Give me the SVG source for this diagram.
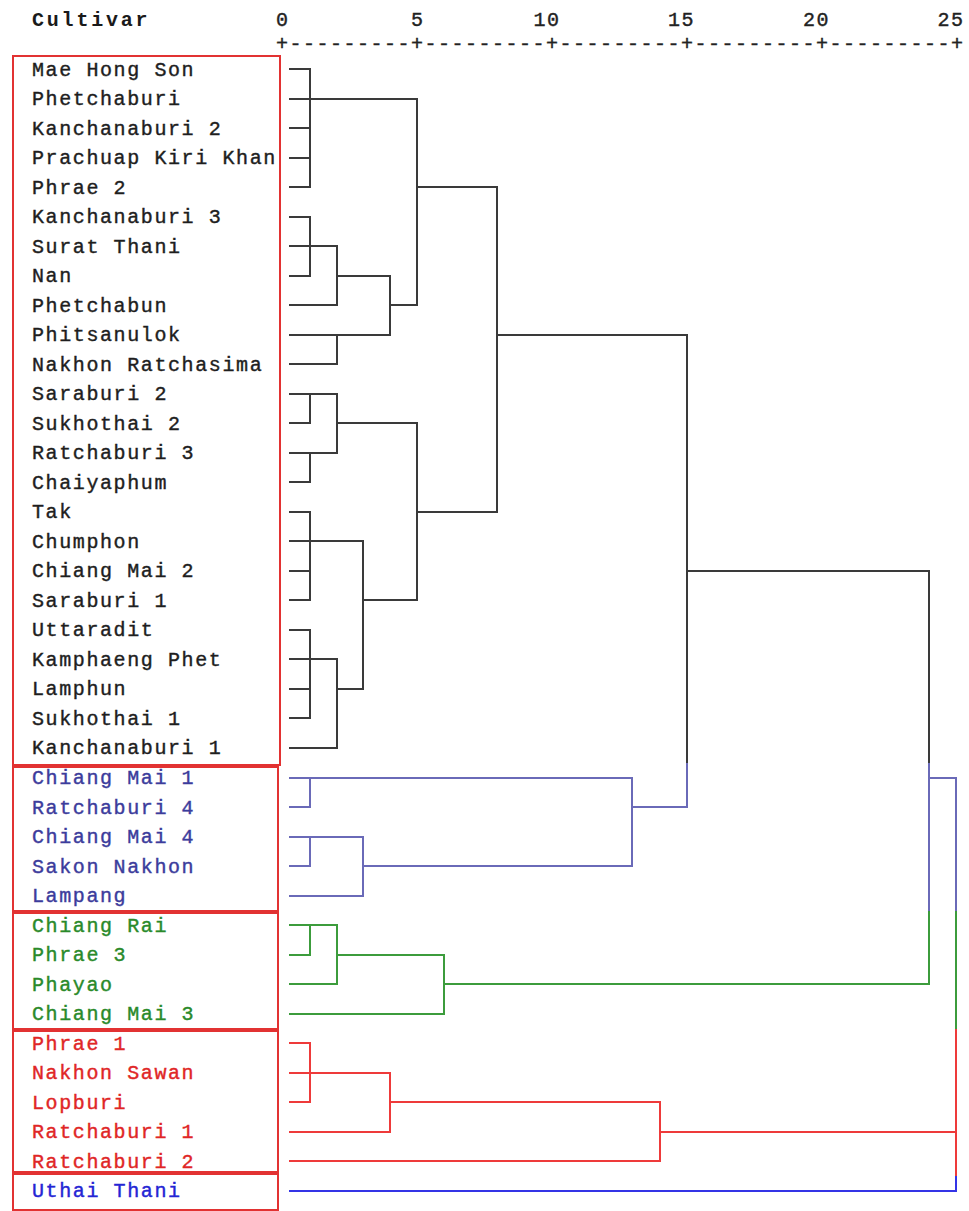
<svg xmlns="http://www.w3.org/2000/svg" width="969" height="1211" viewBox="0 0 969 1211">
<style>
text{font-family:"Liberation Mono","DejaVu Sans Mono",monospace;font-size:20px;letter-spacing:1.6px;stroke-width:0.4px}
.hdr{font-weight:bold;letter-spacing:2.8px;fill:#1a1a1a;stroke:none}
.ax{fill:#222;stroke:#222;letter-spacing:1.5px}
.k{fill:#1e1e1e;stroke:#1e1e1e}.bt{fill:#3c3c9c;stroke:#3c3c9c}.gt{fill:#2a8a2a;stroke:#2a8a2a}.rt{fill:#e02626;stroke:#e02626}.ut{fill:#2424d4;stroke:#2424d4}
.box{fill:none;stroke:#e23232;stroke-width:2}
.ln{fill:none;stroke-width:2;stroke-linecap:square}
.lk{stroke:#3a3a3a}.lb{stroke:#6a6ab8}.lg{stroke:#3c9c3c}.lr{stroke:#ee3a3a}.lu{stroke:#3434e6}
</style>
<rect width="969" height="1211" fill="#ffffff"/>
<g id="header">
<text class="hdr" x="32" y="26">Cultivar</text>
<text class="ax" x="276" y="26">0</text>
<text class="ax" x="411" y="26">5</text>
<text class="ax" x="533.5" y="26">10</text>
<text class="ax" x="668" y="26">15</text>
<text class="ax" x="803" y="26">20</text>
<text class="ax" x="937.5" y="26">25</text>
<text class="ax" x="276" y="49.5">+---------+---------+---------+---------+---------+</text>
</g>
<g id="clusters">
<rect class="box" x="13" y="56" width="267" height="709"/>
<rect class="box" x="13" y="767" width="265" height="144"/>
<rect class="box" x="13" y="913" width="265" height="116"/>
<rect class="box" x="13" y="1031" width="265" height="141"/>
<rect class="box" x="13" y="1174" width="265" height="36"/>
</g>
<g id="connectors">
<path class="ln lk" d="M290 69H310M290 99H417M290 128H310M290 158H310M290 187H310M310 69V187M290 217H310M290 246H337M290 276H310M310 217V276M290 305H337M337 246V305M337 276H390M290 335H390M290 364H337M337 335V364M390 276V335M390 305H417M417 99V305M417 187H497M290 394H337M290 423H310M310 394V423M290 453H337M290 482H310M310 453V482M337 394V453M337 423H417M290 512H310M290 541H363M290 571H310M290 600H310M310 512V600M290 630H310M290 659H337M290 689H310M290 718H310M310 630V718M290 748H337M337 659V748M337 689H363M363 541V689M363 600H417M417 423V600M417 512H497M497 187V512M497 335H687M687 335V762M687 571H929M929 571V762"/>
<path class="ln lb" d="M687 764V807M929 764V910M290 778H632M290 807H310M310 778V807M290 837H363M290 866H310M310 837V866M290 896H363M363 837V896M363 866H632M632 778V866M632 807H687M929 778H956M956 778V910"/>
<path class="ln lg" d="M929 912V984M956 912V1028M290 925H337M290 955H310M310 925V955M290 984H337M337 925V984M337 955H444M290 1014H444M444 955V1014M444 984H929"/>
<path class="ln lr" d="M956 1030V1175M290 1043H310M290 1073H390M290 1102H310M310 1043V1102M290 1132H390M390 1073V1132M390 1102H660M290 1161H660M660 1102V1161M660 1132H956"/>
<path class="ln lu" d="M956 1177V1191M290 1191H956"/>
</g>
<g id="n-mae-hong-son"><text class="k" x="32" y="75.5">Mae Hong Son</text></g>
<g id="n-phetchaburi"><text class="k" x="32" y="105">Phetchaburi</text></g>
<g id="n-kanchanaburi-2"><text class="k" x="32" y="134.5">Kanchanaburi 2</text></g>
<g id="n-prachuap"><text class="k" x="32" y="164">Prachuap Kiri Khan</text></g>
<g id="n-phrae-2"><text class="k" x="32" y="193.5">Phrae 2</text></g>
<g id="n-kanchanaburi-3"><text class="k" x="32" y="223">Kanchanaburi 3</text></g>
<g id="n-surat-thani"><text class="k" x="32" y="252.5">Surat Thani</text></g>
<g id="n-nan"><text class="k" x="32" y="282">Nan</text></g>
<g id="n-phetchabun"><text class="k" x="32" y="311.5">Phetchabun</text></g>
<g id="n-phitsanulok"><text class="k" x="32" y="341">Phitsanulok</text></g>
<g id="n-nakhon-ratchasima"><text class="k" x="32" y="370.5">Nakhon Ratchasima</text></g>
<g id="n-saraburi-2"><text class="k" x="32" y="400">Saraburi 2</text></g>
<g id="n-sukhothai-2"><text class="k" x="32" y="429.5">Sukhothai 2</text></g>
<g id="n-ratchaburi-3"><text class="k" x="32" y="459">Ratchaburi 3</text></g>
<g id="n-chaiyaphum"><text class="k" x="32" y="488.5">Chaiyaphum</text></g>
<g id="n-tak"><text class="k" x="32" y="518">Tak</text></g>
<g id="n-chumphon"><text class="k" x="32" y="547.5">Chumphon</text></g>
<g id="n-chiang-mai-2"><text class="k" x="32" y="577">Chiang Mai 2</text></g>
<g id="n-saraburi-1"><text class="k" x="32" y="606.5">Saraburi 1</text></g>
<g id="n-uttaradit"><text class="k" x="32" y="636">Uttaradit</text></g>
<g id="n-kamphaeng-phet"><text class="k" x="32" y="665.5">Kamphaeng Phet</text></g>
<g id="n-lamphun"><text class="k" x="32" y="695">Lamphun</text></g>
<g id="n-sukhothai-1"><text class="k" x="32" y="724.5">Sukhothai 1</text></g>
<g id="n-kanchanaburi-1"><text class="k" x="32" y="754">Kanchanaburi 1</text></g>
<g id="n-chiang-mai-1"><text class="bt" x="32" y="784">Chiang Mai 1</text></g>
<g id="n-ratchaburi-4"><text class="bt" x="32" y="813.5">Ratchaburi 4</text></g>
<g id="n-chiang-mai-4"><text class="bt" x="32" y="843">Chiang Mai 4</text></g>
<g id="n-sakon-nakhon"><text class="bt" x="32" y="872.5">Sakon Nakhon</text></g>
<g id="n-lampang"><text class="bt" x="32" y="902">Lampang</text></g>
<g id="n-chiang-rai"><text class="gt" x="32" y="931.5">Chiang Rai</text></g>
<g id="n-phrae-3"><text class="gt" x="32" y="961">Phrae 3</text></g>
<g id="n-phayao"><text class="gt" x="32" y="990.5">Phayao</text></g>
<g id="n-chiang-mai-3"><text class="gt" x="32" y="1020">Chiang Mai 3</text></g>
<g id="n-phrae-1"><text class="rt" x="32" y="1049.5">Phrae 1</text></g>
<g id="n-nakhon-sawan"><text class="rt" x="32" y="1079">Nakhon Sawan</text></g>
<g id="n-lopburi"><text class="rt" x="32" y="1108.5">Lopburi</text></g>
<g id="n-ratchaburi-1"><text class="rt" x="32" y="1138">Ratchaburi 1</text></g>
<g id="n-ratchaburi-2"><text class="rt" x="32" y="1167.5">Ratchaburi 2</text></g>
<g id="n-uthai-thani"><text class="ut" x="32" y="1197">Uthai Thani</text></g>
</svg>
